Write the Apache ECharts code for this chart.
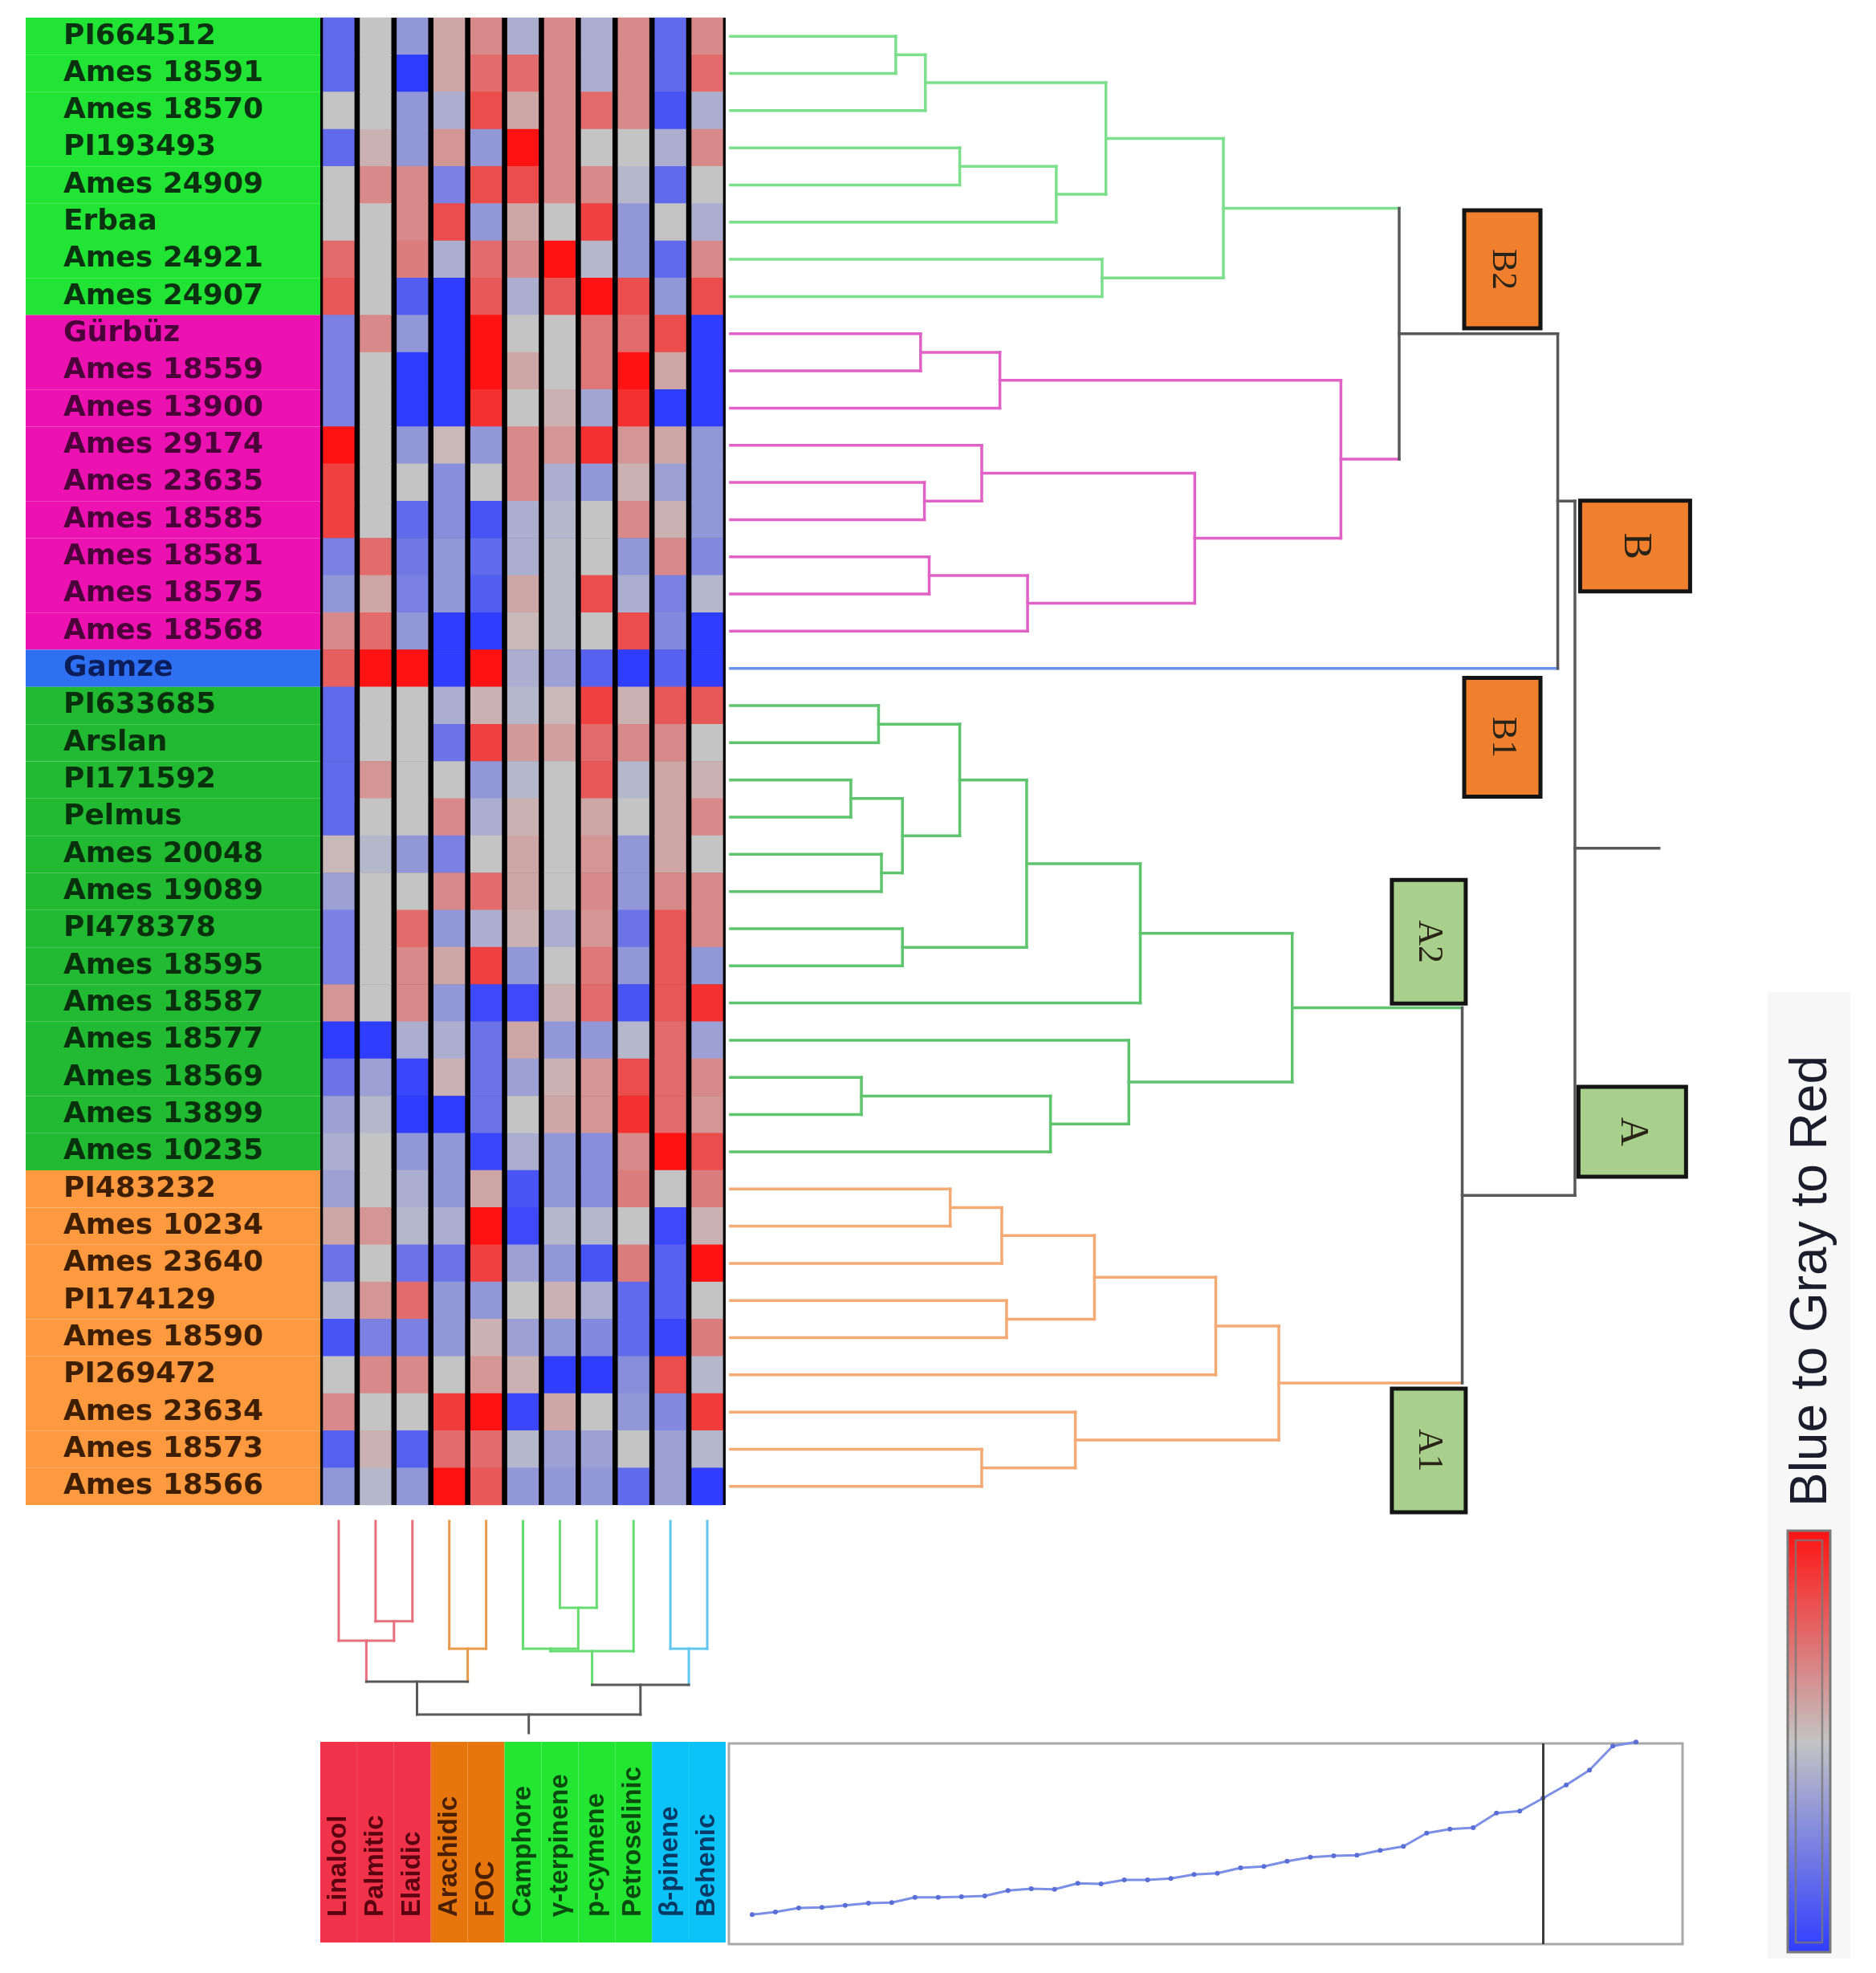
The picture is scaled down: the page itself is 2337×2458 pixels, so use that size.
<!DOCTYPE html>
<html><head><meta charset="utf-8">
<script src="https://cdn.jsdelivr.net/npm/echarts/dist/echarts.min.js"></script>
<style>html,body{margin:0;padding:0;background:#fff}#c{width:2337px;height:2458px}</style>
</head><body><div id="c"></div>
<script>
// ---------- DATA ----------
const rowNames = ['PI664512','Ames 18591','Ames 18570','PI193493','Ames 24909','Erbaa','Ames 24921','Ames 24907',
 'Gürbüz','Ames 18559','Ames 13900','Ames 29174','Ames 23635','Ames 18585','Ames 18581','Ames 18575','Ames 18568',
 'Gamze',
 'PI633685','Arslan','PI171592','Pelmus','Ames 20048','Ames 19089','PI478378','Ames 18595','Ames 18587','Ames 18577','Ames 18569','Ames 13899','Ames 10235',
 'PI483232','Ames 10234','Ames 23640','PI174129','Ames 18590','PI269472','Ames 23634','Ames 18573','Ames 18566'];
const rowGroups = [0,0,0,0,0,0,0,0, 1,1,1,1,1,1,1,1,1, 2, 3,3,3,3,3,3,3,3,3,3,3,3,3, 4,4,4,4,4,4,4,4,4];
const colNames = ['Linalool','Palmitic','Elaidic','Arachidic','FOC','Camphore','γ-terpinene','p-cymene','Petroselinic','β-pinene','Behenic'];
const colGroups = [0,0,0,1,1,2,2,2,2,3,3];
const heatValues = [
 [-2,0,-1,0.5,1,-0.5,1,-0.5,1,-2,1],
 [-2,0,-3,0.5,1.5,1.5,1,-0.5,1,-2,1.5],
 [0,0,-1,-0.5,2,0.5,1,1.5,1,-2.5,-0.5],
 [-2,0.3,-1,0.8,-1,3,1,0,0,-0.5,1],
 [0,1,1,-1.5,2,2,1,1,-0.3,-2,0],
 [0,0,1,2,-1,0.5,0,2.2,-1,0,-0.5],
 [1.5,0,1.2,-0.5,1.5,1,3,-0.3,-1,-2,1],
 [1.8,0,-2.3,-3,1.8,-0.5,1.8,3,2,-1,2],
 [-1.5,1,-1,-3,3,0,0,1.3,1.5,2,-3],
 [-1.5,0,-3,-3,3,0.5,0,1.3,3,0.5,-3],
 [-1.5,0,-3,-3,2.5,0,0.3,-0.7,2.5,-3,-3],
 [3,0,-1,0.2,-1,1,0.8,2.5,0.8,0.5,-1],
 [2.2,0,0,-1.2,0,1,-0.5,-1,0.3,-0.8,-1],
 [2.2,0,-2,-1.2,-2.5,-0.5,-0.3,0,1,0.3,-1],
 [-1.5,1.5,-1.7,-1,-2,-0.5,-0.2,0,-1,1,-1.3],
 [-1,0.5,-1.5,-1,-2.3,0.5,-0.2,2,-0.5,-1.5,-0.3],
 [1,1.5,-1,-3,-3,0.2,-0.2,0,2,-1.3,-3],
 [1.7,3,3,-3,3,-0.5,-0.8,-2.2,-3,-2.2,-3],
 [-2,0,0,-0.5,0.3,-0.3,0.2,2.2,0.3,1.8,1.8],
 [-2,0,0,-1.8,2.2,0.7,0.6,1.5,1,1,0],
 [-2,0.8,0,0,-1,-0.3,0,1.8,-0.3,0.5,0.3],
 [-2,0,0,1,-0.5,0.3,0,0.5,0,0.5,1],
 [0.2,-0.3,-1,-1.5,0,0.5,0,0.8,-1,0.5,0],
 [-0.8,0,0,1,1.5,0.5,0,1,-1,1,1],
 [-1.5,0,1.5,-1,-0.5,0.3,-0.5,0.8,-1.8,1.8,1],
 [-1.5,0,1,0.5,2.2,-1,0,1.3,-1,1.8,-1],
 [0.8,0,1,-1,-2.7,-2.7,0.3,1.5,-2.5,1.8,2.5],
 [-3,-3,-0.5,-0.5,-1.8,0.5,-1,-1,-0.3,1.5,-0.8],
 [-1.8,-0.8,-2.8,0.3,-1.8,-0.8,0.3,0.8,2,1.5,1],
 [-0.8,-0.3,-3,-3,-1.8,0,0.5,0.8,2.5,1.5,0.8],
 [-0.5,0,-1,-1,-2.8,-0.5,-1,-1.2,1,3,2],
 [-0.8,0,-0.5,-1,0.5,-2.5,-1,-1.2,1.2,0,1.2],
 [0.5,0.8,-0.3,-0.5,3,-2.7,-0.3,-0.3,0,-2.7,0.3],
 [-1.8,0,-1.8,-1.8,2.2,-0.8,-1,-2.5,1.2,-2.2,3],
 [-0.3,0.8,1.5,-1,-1,0,0.3,-0.5,-2,-2.2,0],
 [-2.5,-1.5,-1.5,-1,0.3,-0.8,-1,-1.3,-2,-2.8,1.2],
 [0,1,1,0,0.8,0.3,-3,-3,-1.2,2,-0.3],
 [1,0,0,2.3,3,-2.8,0.5,0,-1,-1.3,2.3],
 [-2.2,0.3,-2.2,1.5,1.5,-0.3,-0.8,-0.8,0,-0.8,-0.3],
 [-1,-0.3,-1,3,1.8,-1,-1,-1,-2,-0.8,-3]
];
// row dendrogram merges: [childA, childB, distance]; new nodes numbered from 40
const rowMerges = [
 [0,1,17.3],[40,2,20.4],[3,4,24.0],[42,5,34.1],[41,43,39.3],[6,7,38.9],[44,45,51.6],
 [8,9,19.9],[47,10,28.2],[12,13,20.3],[11,49,26.3],[14,15,20.8],[51,16,31.1],[50,52,48.6],[48,53,63.9],
 [46,54,70.0],[55,17,86.6],
 [18,19,15.5],[20,21,12.6],[22,23,15.8],[58,59,18.0],[57,60,24.0],[24,25,18.0],[61,62,31.0],[63,26,42.9],
 [28,29,13.7],[65,30,33.5],[27,66,41.7],[64,67,58.8],
 [31,32,23.0],[69,33,28.4],[34,35,28.9],[70,71,38.1],[72,36,50.8],[38,39,26.3],[37,74,36.1],[73,75,57.4],
 [68,76,76.6],[56,77,88.4]
];
const rowRootStub = 97.2;
// column dendrogram merges: [childA, childB, height]; new nodes numbered from 11
const colMerges = [
 [1,2,47.3],[0,11,56.4],[3,4,60.2],[12,13,75.8],
 [6,7,40.9],[5,15,60.2],[16,8,61.4],[9,10,60.2],[17,18,77.3],[14,19,91.3]
];
const colRootStub = 100;
// fusion level plot
const fusionLevels = [14.7,16.0,18.0,18.3,19.3,20.4,20.7,23.3,23.3,23.6,24.0,26.7,27.6,27.3,30.3,30.0,32.0,32.0,32.7,34.7,
 35.3,38.0,38.7,41.3,43.3,44.0,44.3,46.7,48.7,55.3,57.3,58.0,65.3,66.3,72.7,79.3,86.7,98.7,100.7];
const fusionCut = 34;
// cluster labels
const clusterNames = ['B2','B','B1','A2','A','A1'];
const clusterDist = [80.8,94.7,80.8,73.1,94.4,73.1];
const clusterRow = [6.77,14.21,19.35,24.85,29.96,38.53];

// ---------- STYLES ----------
const rowBg = ['#22e434','#ec12b2','#2f70f2','#22ba32','#fd9a40'];
const rowTxt = ['#0a3210','#4a0038','#0c1e5a','#08300c','#3d1e00'];
const rowLine = ['#7ddf8c','#e062c6','#6b92ea','#5fc46e','#f4aa74','#585858'];
const colBg = ['#f0334b','#e8760e','#22e632','#0bc3f6'];
const colTxt = ['#5a0010','#4a1e00','#0a4a0e','#063a66'];
const colLine = ['#e8707e','#e89a4a','#66dd70','#5fc6ee','#585858'];
const clusterStyle = {
 B2:{w:95,h:147,fill:'#f07f2e',font:44}, B:{w:137,h:113,fill:'#f07f2e',font:50}, B1:{w:95,h:148,fill:'#f07f2e',font:44},
 A2:{w:92,h:154,fill:'#a8d08c',font:44}, A:{w:134,h:112,fill:'#a8d08c',font:50}, A1:{w:92,h:154,fill:'#a8d08c',font:44}
};

// ---------- BUILD ----------
function buildDendro(n, leafCol, merges, gray, rowOrient, stubEnd) {
  const pos=[], h=[], col=[], segs=[];
  for (let i=0;i<n;i++){pos.push(i+0.5);h.push(0);col.push(leafCol[i]);}
  function add(h1,p1,h2,p2,c){ segs.push(rowOrient ? [h1,p1,h2,p2,c] : [p1,h1,p2,h2,c]); }
  merges.forEach(m=>{
    const a=m[0], b=m[1], hh=m[2];
    const c = col[a]===col[b] ? col[a] : gray;
    add(h[a],pos[a],hh,pos[a],col[a]);
    add(h[b],pos[b],hh,pos[b],col[b]);
    add(hh,pos[a],hh,pos[b],c);
    pos.push((pos[a]+pos[b])/2); h.push(hh); col.push(c);
  });
  const r = pos.length-1;
  add(h[r],pos[r],stubEnd,pos[r],col[r]);
  return segs;
}
const rowSegs = buildDendro(40, rowGroups, rowMerges, 5, true, rowRootStub);
const colSegs = buildDendro(11, colGroups, colMerges, 4, false, colRootStub);

const cellData = [];
heatValues.forEach((row,r)=>row.forEach((v,c)=>cellData.push([c,r,v])));

function segRender(colors, width){
  return function(params, api){
    const p1 = api.coord([api.value(0), api.value(1)]);
    const p2 = api.coord([api.value(2), api.value(3)]);
    return {type:'line', shape:{x1:p1[0],y1:p1[1],x2:p2[0],y2:p2[1]},
      style:{stroke:colors[api.value(4)], lineWidth:width, lineCap:'square'}};
  };
}

const chart = echarts.init(document.getElementById('c'), null, {renderer:'canvas'});
const option = {
  backgroundColor:'#ffffff',
  animation:false,
  grid:[
    {left:399, top:22, width:505, height:1853, show:true, backgroundColor:'#000', borderWidth:0},
    {left:32, top:22, width:367, height:1853},
    {left:399, top:1895, width:505, height:264},
    {left:910, top:22, width:1190, height:1853},
    {left:908, top:2172, width:1188, height:250, show:true, backgroundColor:'#fff', borderColor:'#a8a8a8', borderWidth:3},
    {left:399, top:2170, width:505, height:250}
  ],
  xAxis:[
    {type:'category', gridIndex:0, data:colNames, show:false},
    {type:'value', gridIndex:1, min:0, max:1, show:false},
    {type:'value', gridIndex:2, min:0, max:11, show:false},
    {type:'value', gridIndex:3, min:0, max:100, show:false},
    {type:'value', gridIndex:4, min:-1, max:40, show:false},
    {type:'category', gridIndex:5, data:colNames, show:false}
  ],
  yAxis:[
    {type:'category', gridIndex:0, data:rowNames, inverse:true, show:false},
    {type:'category', gridIndex:1, data:rowNames, inverse:true, show:false},
    {type:'value', gridIndex:2, min:0, max:100, inverse:true, show:false},
    {type:'value', gridIndex:3, min:0, max:40, inverse:true, show:false},
    {type:'value', gridIndex:4, min:0, max:100, show:false},
    {type:'value', gridIndex:5, min:0, max:1, show:false}
  ],
  visualMap:{
    type:'continuous', min:-3, max:3, dimension:2, seriesIndex:0, show:true, calculable:false,
    orient:'vertical', left:2227, top:1907, itemWidth:53, itemHeight:525, padding:0, hoverLink:false,
    inRange:{color:['#2f3dff','#c4c4c4','#ff1212']}
  },
  graphic:[
    {type:'rect', z:0, shape:{x:2202,y:1236,width:103,height:1204}, style:{fill:'#f7f7f7'}},
    {type:'rect', z:100, shape:{x:2227,y:1907,width:53,height:525}, style:{fill:'none', stroke:'#7a7a7a', lineWidth:3}},
    {type:'rect', z:100, shape:{x:2237,y:1919,width:33,height:501}, style:{fill:'none', stroke:'rgba(120,120,120,0.8)', lineWidth:2.5}},
    {type:'text', z:100, x:2257, y:1596, rotation:Math.PI/2,
      style:{text:'Blue to Gray to Red', font:'64px "Liberation Sans", Arial, sans-serif', fill:'#1c1c2c', align:'center', verticalAlign:'middle', textAlign:'center', textVerticalAlign:'middle'}}
  ],
  series:[
    {type:'custom', name:'heat', xAxisIndex:0, yAxisIndex:0, data:cellData, encode:{x:0,y:1},
      renderItem:function(params, api){
        const c = api.coord([api.value(0), api.value(1)]);
        const s = api.size([1,1]);
        const gap = 6.6;
        return {type:'rect', shape:{x:c[0]-s[0]/2+gap/2, y:c[1]-s[1]/2-0.3, width:s[0]-gap, height:s[1]+0.6},
          style:{fill:api.visual('color')}};
      }},
    {type:'bar', xAxisIndex:1, yAxisIndex:1, barCategoryGap:'0%', silent:true,
      data: rowNames.map((n,i)=>({value:1, itemStyle:{color:rowBg[rowGroups[i]]},
        label:{color:rowTxt[rowGroups[i]]}})),
      label:{show:true, position:'insideLeft', distance:47, formatter:'{b}',
        fontFamily:'DejaVu Sans', fontWeight:'bold', fontSize:36}},
    {type:'custom', xAxisIndex:2, yAxisIndex:2, data:colSegs, encode:{x:[0,2], y:[1,3]}, clip:false,
      renderItem:segRender(colLine, 3)},
    {type:'custom', xAxisIndex:3, yAxisIndex:3, data:rowSegs, encode:{x:[0,2], y:[1,3]}, clip:false,
      renderItem:segRender(rowLine, 3.5)},
    {type:'custom', xAxisIndex:3, yAxisIndex:3, clip:false, z:10,
      data: clusterNames.map((n,i)=>[clusterDist[i], clusterRow[i], i]), encode:{x:0,y:1},
      renderItem:function(params, api){
        const p = api.coord([api.value(0), api.value(1)]);
        const name = clusterNames[api.value(2)];
        const st = clusterStyle[name];
        return {type:'group', children:[
          {type:'rect', shape:{x:p[0]-st.w/2, y:p[1]-st.h/2, width:st.w, height:st.h},
            style:{fill:st.fill, stroke:'#141414', lineWidth:5}},
          {type:'text', x:p[0], y:p[1], rotation:-Math.PI/2,
            style:{text:name, font: st.font+'px "Liberation Serif", "Times New Roman", serif', fill:'#2a2418',
              align:'center', verticalAlign:'middle', textAlign:'center', textVerticalAlign:'middle'}}
        ]};
      }},
    {type:'line', xAxisIndex:4, yAxisIndex:4, data:fusionLevels.map((v,i)=>[i,v]), clip:false,
      symbol:'circle', symbolSize:6, itemStyle:{color:'#5a6fd6'}, lineStyle:{color:'#7b8fe6', width:3},
      markLine:{silent:true, symbol:['none','none'], label:{show:false},
        lineStyle:{color:'#3c3c3c', width:3, type:'solid'}, data:[{xAxis:fusionCut}]}},
    {type:'bar', xAxisIndex:5, yAxisIndex:5, barCategoryGap:'0%', silent:true,
      data: colNames.map((n,i)=>({value:1, itemStyle:{color:colBg[colGroups[i]]}, label:{color:colTxt[colGroups[i]]}})),
      label:{show:true, position:'insideBottom', distance:32, rotate:90, align:'left', verticalAlign:'middle',
        formatter:'{b}', fontFamily:'"Liberation Sans", Arial, sans-serif', fontWeight:'bold', fontSize:33}}
  ]
};
chart.setOption(option);
</script></body></html>
